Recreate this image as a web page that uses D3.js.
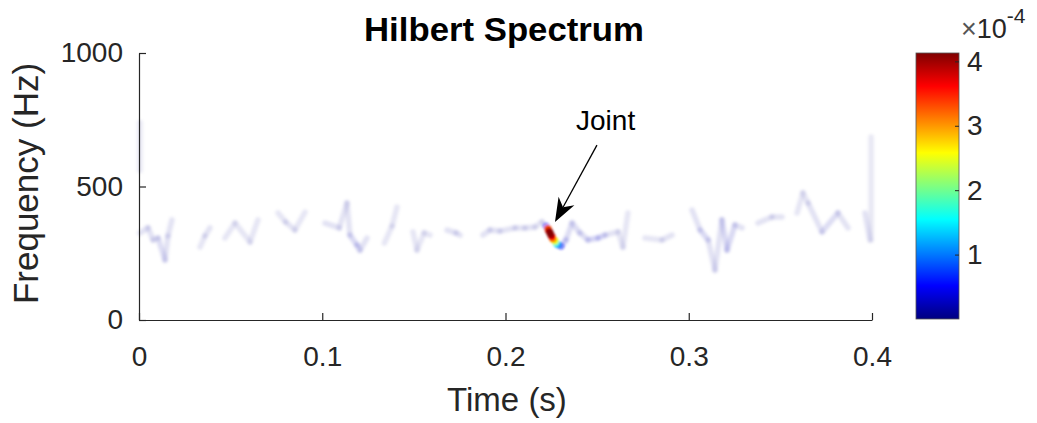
<!DOCTYPE html>
<html>
<head>
<meta charset="utf-8">
<script src="https://cdn.jsdelivr.net/npm/d3@7"></script>
<style>
  html, body { margin: 0; padding: 0; background: #fff; }
  svg { display: block; font-family: "Liberation Sans", Arial, Helvetica, sans-serif; }
</style>
</head>
<body>
<svg id="chart" width="1037" height="423"></svg>
<script>
// ---------------- data ----------------
const chartTitle = "Hilbert Spectrum";
const xLabel = "Time (s)";
const yLabel = "Frequency (Hz)";
const xTicks = [0, 0.1, 0.2, 0.3, 0.4];
const yTicks = [0, 500, 1000];
const cbTicks = [1, 2, 3, 4];          // colorbar ticks, in units of 1e-4
const cbMax = 4.13;                     // colorbar top, units of 1e-4
const cbExponent = "-4";

// instantaneous-frequency trace (null = gap)
const times = [
  0.0005, 0.0049, 0.0077, 0.0104, 0.0142, 0.0158, 0.0180, null,
  0.0333, 0.0360, 0.0387, null,
  0.0469, 0.0524, 0.0606, 0.0649, null,
  0.0759, 0.0800, 0.0851, 0.0906, null,
  0.1015, 0.1093, 0.1135, 0.1151, 0.1189, 0.1206, 0.1244, null,
  0.1339, 0.1381, 0.1408, null,
  0.1495, 0.1517, 0.1556, 0.1588, null,
  0.1681, 0.1730, 0.1752, null,
  0.1877, 0.1915, 0.1970, 0.2052, 0.2106, 0.2161, 0.2199,
  0.2221, 0.2232, 0.2237, 0.2243, 0.2248, 0.2254, 0.2259, 0.2270, 0.2276, 0.2287, 0.2303,
  0.2330, 0.2363, 0.2406, 0.2450, 0.2505, 0.2543,
  0.2614, 0.2641, 0.2668, null,
  0.2761, 0.2854, 0.2909, null,
  0.3018, 0.3062, 0.3106, 0.3143, 0.3181, 0.3209, 0.3252, 0.3291, null,
  0.3378, 0.3454, 0.3509, null,
  0.3591, 0.3623, 0.3651, 0.3727, 0.3814, 0.3869, null,
  0.3962, 0.3989, null,
  0.3995, 0.3995, null,
  0.0005, 0.0005
];
const freqs = [
  326, 345, 300, 307, 225, 315, 375, null,
  273, 315, 345, null,
  307, 363, 292, 375, null,
  401, 367, 337, 404, null,
  363, 345, 438, 318, 281, 262, 307, null,
  288, 352, 423, null,
  330, 262, 326, 318, null,
  337, 326, 318, null,
  318, 337, 333, 345, 345, 348, 367,
  352, 341, 333, 326, 318, 311, 303, 296, 288, 281, 277,
  300, 363, 326, 300, 307, 318,
  330, 273, 401, null,
  307, 300, 318, null,
  412, 337, 300, 187, 375, 262, 356, 345, null,
  363, 386, 386, null,
  401, 476, 438, 330, 401, 345, null,
  401, 300, null,
  300, 685, null,
  560, 740
];
// amplitude, units of 1e-4
const amps = [
  0.10, 0.10, 0.10, 0.30, 0.15, 0.10, 0.08, null,
  0.05, 0.08, 0.10, null,
  0.05, 0.15, 0.05, 0.05, null,
  0.05, 0.08, 0.10, 0.05, null,
  0.10, 0.20, 0.08, 0.20, 0.25, 0.20, 0.10, null,
  0.10, 0.05, 0.05, null,
  0.08, 0.05, 0.10, 0.05, null,
  0.20, 0.10, 0.10, null,
  0.10, 0.20, 0.10, 0.15, 0.10, 0.10, 0.05,
  0.50, 3.30, 3.90, 4.10, 4.00, 3.60, 3.00, 2.50, 1.60, 1.00, 0.60,
  0.30, 0.15, 0.15, 0.25, 0.30, 0.25,
  0.10, 0.05, 0.05, null,
  0.05, 0.10, 0.08, null,
  0.10, 0.20, 0.30, 0.10, 0.20, 0.20, 0.25, 0.10, null,
  0.08, 0.08, 0.08, null,
  0.10, 0.05, 0.10, 0.15, 0.20, 0.08, null,
  0.10, 0.30, null,
  0.10, 0.03, null,
  0.03, 0.03
];

// annotation
const annotText = "Joint";
const annotTip = [0.2270, 367];
const annotTail = [0.2499, 655];
const annotLabel = [0.2385, 712];

// ---------------- drawing ----------------
const svg = d3.select("#chart");
const axisColor = "#262626";
const plot = { left: 139, right: 872, top: 53, bottom: 320 };
const cb = { left: 916, right: 959, top: 53, bottom: 319 };

const x = d3.scaleLinear().domain([0, 0.4]).range([plot.left, plot.right]);
const y = d3.scaleLinear().domain([0, 1000]).range([plot.bottom, plot.top]);
const c = d3.scaleLinear().domain([0, cbMax]).range([cb.bottom, cb.top]);

function jet(v) {
  v = Math.max(0, Math.min(1, v));
  const cl = t => Math.round(255 * Math.max(0, Math.min(1, t)));
  return `rgb(${cl(1.5 - Math.abs(4 * v - 3))},${cl(1.5 - Math.abs(4 * v - 2))},${cl(1.5 - Math.abs(4 * v - 1))})`;
}

const defs = svg.append("defs");
const blur = defs.append("filter").attr("id", "soft").attr("x", "-50%").attr("y", "-50%").attr("width", "200%").attr("height", "200%");
blur.append("feGaussianBlur").attr("stdDeviation", 1.7);
const blur2 = defs.append("filter").attr("id", "soft2").attr("x", "-50%").attr("y", "-50%").attr("width", "200%").attr("height", "200%");
blur2.append("feGaussianBlur").attr("stdDeviation", 0.8);

// trace segments
const segs = [];
for (let i = 0; i < times.length - 1; i++) {
  if (times[i] == null || times[i + 1] == null) continue;
  segs.push({
    p: [[times[i], freqs[i]], [times[i + 1], freqs[i + 1]]],
    a: Math.min(amps[i], amps[i + 1])
  });
}
const line = d3.line().x(d => x(d[0])).y(d => y(d[1]));
const faint = segs.filter(s => s.a < 0.5);

svg.append("g").attr("filter", "url(#soft)")
  .selectAll("path").data(faint).join("path")
  .attr("d", d => line(d.p))
  .attr("fill", "none")
  .attr("stroke", d => jet(d.a / cbMax))
  .attr("stroke-opacity", d => 0.08 + d.a * 0.35)
  .attr("stroke-width", 5.5)
  .attr("stroke-linecap", "round");

// hot points (joint)
const hotPts = times.map((t, i) => ({ t, f: freqs[i], a: amps[i] }))
  .filter(d => d.t != null && d.a >= 0.5)
  .sort((a, b) => a.a - b.a);
svg.append("g").attr("filter", "url(#soft2)")
  .selectAll("circle").data(hotPts).join("circle")
  .attr("cx", d => x(d.t)).attr("cy", d => y(d.f))
  .attr("r", 3.6)
  .attr("fill", d => jet(d.a / cbMax))
  .attr("fill-opacity", d => Math.min(1, 0.15 + d.a * 0.45));

// axes
const xAxis = d3.axisBottom(x).tickValues(xTicks).tickSizeInner(-7).tickSizeOuter(0).tickPadding(29)
  .tickFormat(d => d === 0 ? "0" : d3.format(".1f")(d));
const gx = svg.append("g").attr("transform", `translate(0,${plot.bottom})`).call(xAxis);
const yAxis = d3.axisLeft(y).tickValues(yTicks).tickSizeInner(-7).tickSizeOuter(0).tickPadding(16)
  .tickFormat(d3.format("d"));
const gy = svg.append("g").attr("transform", `translate(${plot.left},0)`).call(yAxis);
[gx, gy].forEach(g => {
  g.select(".domain").attr("stroke", axisColor).attr("stroke-width", 1.2);
  g.selectAll(".tick line").attr("stroke", axisColor).attr("stroke-width", 1.2);
  g.selectAll(".tick text").attr("fill", axisColor).attr("font-size", 28);
});
gx.selectAll(".tick text").attr("dy", "0.6em");

// labels
svg.append("text").attr("x", 504).attr("y", 41).attr("text-anchor", "middle")
  .attr("font-size", 33).attr("font-weight", "bold").attr("fill", "#000")
  .attr("textLength", 280).attr("lengthAdjust", "spacingAndGlyphs").text(chartTitle);
svg.append("text").attr("x", 507).attr("y", 411).attr("text-anchor", "middle")
  .attr("font-size", 33).attr("fill", axisColor).text(xLabel);
svg.append("text").attr("transform", `translate(38,${(plot.top + plot.bottom) / 2 - 3}) rotate(-90)`)
  .attr("text-anchor", "middle").attr("font-size", 35).attr("fill", axisColor).text(yLabel);

// colorbar
const grad = defs.append("linearGradient").attr("id", "jetgrad")
  .attr("x1", 0).attr("y1", 1).attr("x2", 0).attr("y2", 0);
d3.range(0, 1.0001, 1 / 64).forEach(v => grad.append("stop").attr("offset", v).attr("stop-color", jet(v)));
svg.append("rect").attr("x", cb.left).attr("y", cb.top).attr("width", cb.right - cb.left).attr("height", cb.bottom - cb.top)
  .attr("fill", "url(#jetgrad)").attr("stroke", "#555").attr("stroke-width", 0.8);
const cAxis = d3.axisRight(c).tickValues(cbTicks).tickSizeInner(-4).tickSizeOuter(0).tickPadding(8)
  .tickFormat(d3.format("d"));
const gc = svg.append("g").attr("transform", `translate(${cb.right},0)`).call(cAxis);
gc.select(".domain").remove();
gc.selectAll(".tick line").attr("stroke", axisColor);
gc.selectAll(".tick text").attr("fill", axisColor).attr("font-size", 28);
const ex = svg.append("text").attr("x", 961).attr("y", 38).attr("fill", axisColor).attr("font-size", 27);
ex.append("tspan").attr("font-weight", 300).attr("fill", "#555").text("\u00d7");
ex.append("tspan").text("10");
ex.append("tspan").attr("dy", -15).attr("font-size", 21).text(cbExponent);

// annotation arrow
const tip = [x(annotTip[0]), y(annotTip[1])];
const tail = [x(annotTail[0]), y(annotTail[1])];
const ang = Math.atan2(tip[1] - tail[1], tip[0] - tail[0]);
const headLen = 24, headW = 9;
const base = [tip[0] - headLen * Math.cos(ang), tip[1] - headLen * Math.sin(ang)];
const notch = [tip[0] - headLen * 0.7 * Math.cos(ang), tip[1] - headLen * 0.7 * Math.sin(ang)];
svg.append("line").attr("x1", tail[0]).attr("y1", tail[1]).attr("x2", notch[0]).attr("y2", notch[1])
  .attr("stroke", "#000").attr("stroke-width", 1.3);
const px = -Math.sin(ang), py = Math.cos(ang);
svg.append("path").attr("d",
  `M${tip[0]},${tip[1]} L${base[0] + px * headW},${base[1] + py * headW} L${notch[0]},${notch[1]} L${base[0] - px * headW},${base[1] - py * headW} Z`)
  .attr("fill", "#000");
svg.append("text").attr("x", x(annotLabel[0])).attr("y", y(annotLabel[1]))
  .attr("font-size", 28).attr("fill", "#000").text(annotText);
</script>
</body>
</html>
